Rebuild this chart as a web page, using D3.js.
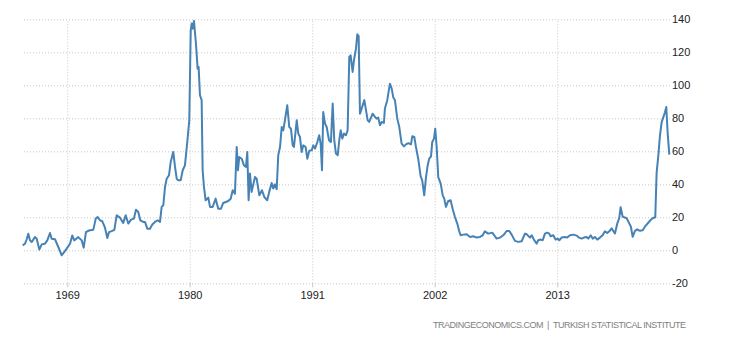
<!DOCTYPE html>
<html>
<head>
<meta charset="utf-8">
<script src="https://cdn.jsdelivr.net/npm/d3@7"></script>
<style>
  body { margin: 0; background: #fff; }
  svg { display: block; font-family: "Liberation Sans", Arial, sans-serif; }
  .grid line { stroke: #c8c8c8; stroke-dasharray: 1,2; }
  .axis text { fill: #222; font-size: 11px; }
</style>
</head>
<body>
<svg id="chart"></svg>
<script>
const width = 730;
const height = 340;

const plotLeft = 22.7;
const plotRight = 669.3;
const plotTop = 19.3;
const plotBottom = 283.3;

const lineColor = "#4682b4";

// Turkey inflation rate (decimal year, percent)
const years = [
  1965.00, 1965.21, 1965.36, 1965.50, 1965.66, 1965.81, 1966.10, 1966.26, 1966.49, 1966.71,
  1967.00, 1967.21, 1967.45, 1967.60, 1967.90, 1968.20, 1968.50, 1968.74, 1968.95, 1969.25,
  1969.45, 1969.63, 1969.99, 1970.30, 1970.48, 1970.68, 1970.95, 1971.34, 1971.56, 1971.73,
  1971.94, 1972.15, 1972.39, 1972.60, 1972.75, 1972.99, 1973.23, 1973.44, 1973.74, 1974.03,
  1974.25, 1974.48, 1974.73, 1974.99, 1975.17, 1975.38, 1975.56, 1975.83, 1975.98, 1976.19,
  1976.43, 1976.64, 1976.88, 1977.12, 1977.33, 1977.48, 1977.63, 1977.78, 1977.93, 1978.14,
  1978.29, 1978.52, 1978.68, 1978.83, 1978.97, 1979.19, 1979.37, 1979.57, 1979.78, 1979.96,
  1980.09, 1980.18, 1980.27, 1980.38, 1980.56, 1980.71, 1980.80, 1980.92, 1981.07, 1981.16,
  1981.28, 1981.43, 1981.67, 1981.82, 1982.06, 1982.33, 1982.56, 1982.81, 1983.01, 1983.46,
  1983.68, 1983.86, 1984.06, 1984.22, 1984.33, 1984.45, 1984.67, 1984.87, 1985.05, 1985.17,
  1985.29, 1985.41, 1985.56, 1985.86, 1986.01, 1986.25, 1986.49, 1986.70, 1986.96, 1987.14,
  1987.36, 1987.50, 1987.66, 1987.81, 1987.95, 1988.11, 1988.26, 1988.40, 1988.55, 1988.76,
  1988.94, 1989.09, 1989.25, 1989.36, 1989.61, 1989.75, 1989.90, 1990.05, 1990.20, 1990.41,
  1990.56, 1990.74, 1990.95, 1991.10, 1991.25, 1991.46, 1991.63, 1991.76, 1991.88, 1991.99,
  1992.15, 1992.30, 1992.51, 1992.68, 1992.84, 1992.98, 1993.13, 1993.29, 1993.43, 1993.56,
  1993.70, 1993.85, 1994.03, 1994.18, 1994.33, 1994.45, 1994.63, 1994.75, 1994.93, 1995.05,
  1995.17, 1995.29, 1995.44, 1995.68, 1995.83, 1995.98, 1996.12, 1996.43, 1996.64, 1996.79,
  1996.93, 1997.09, 1997.24, 1997.44, 1997.53, 1997.74, 1997.98, 1998.14, 1998.28, 1998.43,
  1998.64, 1998.82, 1999.03, 1999.24, 1999.42, 1999.63, 1999.87, 1999.99, 2000.17, 2000.32,
  2000.52, 2000.74, 2000.88, 2001.06, 2001.22, 2001.37, 2001.51, 2001.67, 2001.78, 2001.94,
  2002.05, 2002.18, 2002.32, 2002.54, 2002.72, 2002.86, 2003.01, 2003.22, 2003.43, 2003.61,
  2003.82, 2004.03, 2004.18, 2004.33, 2004.57, 2004.87, 2005.17, 2005.46, 2005.77, 2006.07,
  2006.31, 2006.51, 2006.81, 2007.17, 2007.35, 2007.56, 2007.86, 2008.16, 2008.46, 2008.70,
  2008.91, 2009.21, 2009.50, 2009.81, 2010.11, 2010.26, 2010.56, 2010.71, 2010.91, 2011.16,
  2011.30, 2011.52, 2011.70, 2011.90, 2012.11, 2012.29, 2012.41, 2012.65, 2012.86, 2013.04,
  2013.19, 2013.40, 2013.70, 2013.90, 2014.15, 2014.44, 2014.75, 2014.95, 2015.20, 2015.40,
  2015.64, 2015.79, 2016.01, 2016.19, 2016.39, 2016.60, 2016.84, 2017.08, 2017.29, 2017.50,
  2017.68, 2017.89, 2018.19, 2018.40, 2018.57, 2018.70, 2018.88, 2019.24, 2019.47, 2019.62,
  2019.78, 2019.99, 2020.19, 2020.43, 2020.68, 2020.88, 2021.18, 2021.40, 2021.57, 2021.81,
  2021.93, 2022.08, 2022.23, 2022.38, 2022.53, 2022.68, 2022.80, 2022.92, 2023.07
];
const rates = [
  3.0, 4.0, 6.7, 10.0, 6.0, 5.0, 8.0, 7.0, 0.4, 3.6,
  4.0, 6.0, 10.5, 7.0, 6.7, 2.0, -3.0, -1.0, 1.0, 4.0,
  9.0, 6.0, 8.0, 6.0, 1.6, 11.0, 12.0, 12.4, 19.2, 20.2,
  18.2, 17.6, 13.7, 7.5, 11.0, 11.6, 12.4, 21.2, 19.8, 16.6,
  21.2, 16.2, 18.6, 19.2, 24.6, 23.2, 18.2, 17.2, 17.2, 13.1,
  13.1, 15.6, 17.2, 18.2, 17.2, 26.3, 27.3, 38.4, 43.4, 45.5,
  53.5, 59.6, 50.5, 43.4, 42.4, 42.4, 48.5, 51.5, 65.6, 78.8,
  133.3, 137.4, 134.3, 139.0, 125.2, 110.0, 111.0, 94.0, 91.0, 48.5,
  38.4, 30.3, 31.9, 26.3, 26.3, 31.3, 25.2, 25.2, 28.7, 29.9,
  31.3, 36.4, 34.3, 62.6, 48.5, 56.5, 55.5, 51.5, 50.5, 59.6,
  30.3, 46.5, 35.4, 44.4, 43.4, 33.3, 36.4, 32.3, 30.3, 35.4,
  40.8, 37.4, 40.0, 37.0, 57.6, 62.6, 74.7, 72.7, 78.8, 87.9,
  74.7, 73.7, 63.6, 62.6, 78.8, 70.7, 68.7, 59.6, 63.6, 62.6,
  55.5, 60.3, 60.6, 63.6, 61.6, 65.6, 69.7, 64.6, 48.5, 83.8,
  76.8, 74.7, 66.7, 65.6, 88.9, 66.7, 58.6, 57.6, 66.7, 72.7,
  67.7, 70.7, 69.7, 72.7, 117.2, 118.2, 108.1, 115.2, 122.2, 130.9,
  130.0, 82.8, 85.9, 91.0, 85.0, 78.8, 77.8, 82.8, 80.8, 79.8,
  80.4, 75.8, 77.8, 77.2, 85.9, 91.0, 101.0, 98.0, 92.7, 91.0,
  79.8, 74.7, 64.6, 63.0, 64.2, 65.0, 64.2, 69.1, 68.7, 62.6,
  55.5, 44.8, 42.4, 33.3, 44.4, 51.5, 55.5, 56.9, 65.6, 67.7,
  73.7, 62.6, 44.4, 40.4, 33.3, 31.3, 26.3, 29.9, 30.3, 25.2,
  20.2, 16.2, 12.1, 9.1, 9.5, 9.7, 8.1, 8.5, 7.7, 8.1,
  9.1, 11.5, 10.1, 10.7, 9.1, 7.1, 7.7, 9.1, 11.7, 11.7,
  9.5, 5.7, 5.1, 5.5, 10.1, 9.7, 7.7, 9.1, 6.5, 4.0,
  6.1, 6.5, 6.1, 10.1, 10.7, 10.1, 8.5, 9.1, 6.5, 7.1,
  6.1, 7.7, 8.1, 7.7, 9.1, 9.5, 8.9, 7.7, 7.1, 7.7,
  8.1, 7.1, 9.1, 7.1, 8.1, 6.5, 7.7, 9.1, 11.5, 10.5,
  11.5, 13.3, 10.2, 16.3, 19.4, 26.1, 20.4, 19.4, 16.3, 14.3,
  8.2, 11.8, 12.7, 11.8, 12.2, 14.3, 16.7, 18.4, 19.4, 20.0,
  46.9, 57.1, 69.4, 77.6, 80.6, 83.7, 86.8, 71.4, 58.0
];

const xTicks = [1969, 1980, 1991, 2002, 2013];
const yTicks = [-20, 0, 20, 40, 60, 80, 100, 120, 140];
const sourceText = "TRADINGECONOMICS.COM  |  TURKISH STATISTICAL INSTITUTE";

const data = years.map((y, i) => ({year: y, value: rates[i]}));

const svg = d3.select("#chart")
    .attr("width", width)
    .attr("height", height);

const x = d3.scaleLinear()
    .domain([1965, 2023.07])
    .range([plotLeft, plotRight]);

const y = d3.scaleLinear()
    .domain([-20, 140])
    .range([plotBottom, plotTop]);

// horizontal grid + labels on the right (plain hyphen for negatives)
const yAxis = d3.axisRight(y)
    .tickValues(yTicks)
    .tickSize(-(670 - 22))
    .tickPadding(3)
    .tickFormat(d => String(d));

svg.append("g")
    .attr("class", "grid axis")
    .attr("transform", "translate(670,0)")
    .call(yAxis)
    .call(g => g.select(".domain").remove())
    .call(g => g.selectAll("text").attr("x", 2).attr("text-anchor", "start"));

// vertical grid
svg.append("g")
    .attr("class", "grid")
    .attr("transform", `translate(0,${plotBottom})`)
    .call(d3.axisBottom(x).tickValues(xTicks).tickSize(-(plotBottom - plotTop)).tickFormat(""))
    .call(g => g.select(".domain").remove());

// x tick marks and labels
svg.append("g")
    .attr("class", "axis")
    .attr("transform", `translate(0,${plotBottom})`)
    .call(d3.axisBottom(x).tickValues(xTicks).tickSize(4).tickPadding(4).tickFormat(d => String(d)))
    .call(g => g.select(".domain").remove())
    .call(g => g.selectAll("line").attr("stroke", "#c8c8c8"));

const line = d3.line()
    .x(d => x(d.year))
    .y(d => y(d.value));

svg.append("path")
    .datum(data)
    .attr("fill", "none")
    .attr("stroke", lineColor)
    .attr("stroke-width", 2)
    .attr("stroke-linejoin", "round")
    .attr("d", line);

svg.append("text")
    .attr("x", 433)
    .attr("y", 327.5)
    .attr("textLength", 253)
    .attr("lengthAdjust", "spacing")
    .attr("fill", "#808080")
    .attr("font-size", "9px")
    .style("white-space", "pre")
    .text(sourceText);
</script>
</body>
</html>
